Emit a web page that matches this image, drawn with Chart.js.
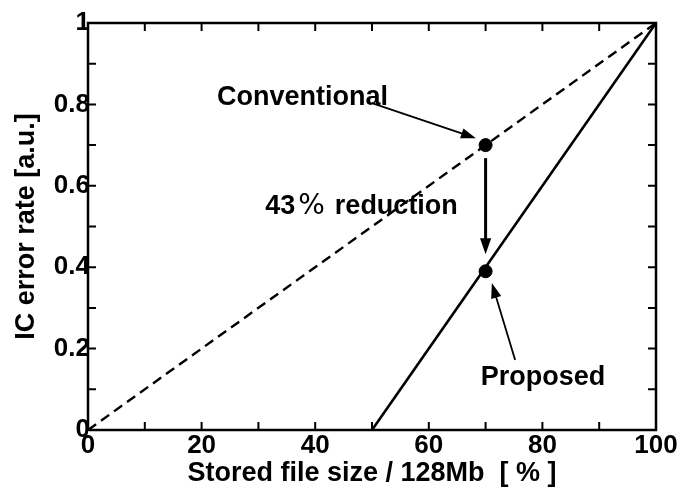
<!DOCTYPE html>
<html>
<head>
<meta charset="utf-8">
<script src="https://cdn.jsdelivr.net/npm/chart.js@4.4.1/dist/chart.umd.min.js"></script>
<style>
  html, body { margin: 0; padding: 0; background: #fff; }
  #wrap { width: 680px; height: 493px; }
</style>
</head>
<body>
<div id="wrap"><canvas id="c" width="680" height="493"></canvas></div>
<script>
// data
const conventionalX = [0, 100];
const conventionalY = [0, 1];
const proposedX = [50, 100];
const proposedY = [0, 1];
const markerX = [70, 70];
const markerY = [0.7, 0.39];
const xTicks = [0, 20, 40, 60, 80, 100];
const yTicks = [0, 0.2, 0.4, 0.6, 0.8, 1];

const toPoints = (xs, ys) => xs.map((x, i) => ({ x: x, y: ys[i] }));

const numFont = { family: "'Liberation Sans Narrow', 'Liberation Sans', Arial", size: 26, weight: 'bold' };
const textFont = "bold 27px 'Liberation Sans', Arial, sans-serif";

// frame, inward ticks, arrows and labels
const decorations = {
    id: 'decorations',
    afterDraw(chart) {
        const ctx = chart.ctx;
        const xs = chart.scales.x, ys = chart.scales.y;
        const a = chart.chartArea;
        const px = v => xs.getPixelForValue(v);
        const py = v => ys.getPixelForValue(v);

        ctx.save();
        ctx.strokeStyle = '#000';
        ctx.lineWidth = 2.5;
        ctx.strokeRect(a.left, a.top, a.right - a.left, a.bottom - a.top);

        ctx.lineWidth = 2;
        ctx.beginPath();
        for (let v = 10; v < 100; v += 10) {
            const x = px(v);
            ctx.moveTo(x, a.bottom); ctx.lineTo(x, a.bottom - 8);
            ctx.moveTo(x, a.top); ctx.lineTo(x, a.top + 8);
        }
        for (let v = 1; v < 10; v++) {
            const y = py(v / 10);
            ctx.moveTo(a.left, y); ctx.lineTo(a.left + 8, y);
            ctx.moveTo(a.right, y); ctx.lineTo(a.right - 8, y);
        }
        ctx.stroke();

        function arrow(x1, y1, x2, y2, w, head) {
            const X1 = px(x1), Y1 = py(y1), X2 = px(x2), Y2 = py(y2);
            const ang = Math.atan2(Y2 - Y1, X2 - X1);
            ctx.lineWidth = w;
            ctx.beginPath();
            ctx.moveTo(X1, Y1);
            ctx.lineTo(X2 - Math.cos(ang) * head * 0.8, Y2 - Math.sin(ang) * head * 0.8);
            ctx.stroke();
            ctx.beginPath();
            ctx.moveTo(X2, Y2);
            ctx.lineTo(X2 - head * Math.cos(ang) + head * 0.35 * Math.sin(ang), Y2 - head * Math.sin(ang) - head * 0.35 * Math.cos(ang));
            ctx.lineTo(X2 - head * Math.cos(ang) - head * 0.35 * Math.sin(ang), Y2 - head * Math.sin(ang) + head * 0.35 * Math.cos(ang));
            ctx.closePath();
            ctx.fill();
        }
        ctx.fillStyle = '#000';
        arrow(50.0, 0.803, 68.3, 0.717, 1.8, 15);
        arrow(70, 0.668, 70, 0.432, 3, 16);
        arrow(75.2, 0.172, 71.1, 0.361, 1.8, 15);

        ctx.font = textFont;
        ctx.textBaseline = 'middle';
        ctx.textAlign = 'left';
        ctx.fillText('Conventional', px(22.7), py(0.816));
        ctx.textAlign = 'center';
        ctx.fillText('Proposed', px(80.1), py(0.13));

        // "43% reduction" with a lighter percent sign
        ctx.textAlign = 'left';
        let x = px(31.2);
        const y = py(0.548);
        ctx.fillText('43', x, y);
        x += ctx.measureText('43').width + 3;
        ctx.font = "28px 'DejaVu Sans', sans-serif";
        ctx.fillText('%', x, y);
        x += ctx.measureText('%').width + 10;
        ctx.font = textFont;
        ctx.fillText('reduction', x, y);
        ctx.restore();
    }
};

new Chart(document.getElementById('c').getContext('2d'), {
    type: 'scatter',
    data: {
        datasets: [
            {
                label: 'Conventional',
                data: toPoints(conventionalX, conventionalY),
                showLine: true,
                borderColor: '#000',
                borderWidth: 2.4,
                borderDash: [10, 6],
                pointRadius: 0
            },
            {
                label: 'Proposed',
                data: toPoints(proposedX, proposedY),
                showLine: true,
                borderColor: '#000',
                borderWidth: 2.6,
                pointRadius: 0
            },
            {
                label: 'Points',
                data: toPoints(markerX, markerY),
                showLine: false,
                pointRadius: 6.5,
                backgroundColor: '#000',
                borderColor: '#000'
            }
        ]
    },
    options: {
        responsive: false,
        animation: false,
        layout: { padding: { left: 0, top: 23, right: 24, bottom: 0 } },
        plugins: { legend: { display: false }, tooltip: { enabled: false } },
        scales: {
            x: {
                type: 'linear',
                min: 0, max: 100,
                afterBuildTicks: s => { s.ticks = xTicks.map(v => ({ value: v })); },
                afterFit: s => { s.height = 63; },
                grid: { display: false, drawTicks: false },
                border: { display: false },
                ticks: { color: '#000', font: numFont, padding: 0, maxRotation: 0 },
                title: {
                    display: true,
                    text: 'Stored file size / 128Mb  [ % ]',
                    color: '#000',
                    font: { family: "'Liberation Sans', Arial", size: 27, weight: 'bold' },
                    padding: { top: 0, bottom: 3 }
                }
            },
            y: {
                type: 'linear',
                min: 0, max: 1,
                afterBuildTicks: s => { s.ticks = yTicks.map(v => ({ value: v })); },
                afterFit: s => { s.width = 88; },
                grid: { display: false, drawTicks: false },
                border: { display: false },
                ticks: { color: '#000', font: numFont, padding: -2, callback: v => String(v) },
                title: {
                    display: true,
                    text: 'IC error rate [a.u.]',
                    color: '#000',
                    font: { family: "'Liberation Sans', Arial", size: 27, weight: 'bold' },
                    padding: { top: 10, bottom: 0 }
                }
            }
        }
    },
    plugins: [decorations]
});
</script>
</body>
</html>
